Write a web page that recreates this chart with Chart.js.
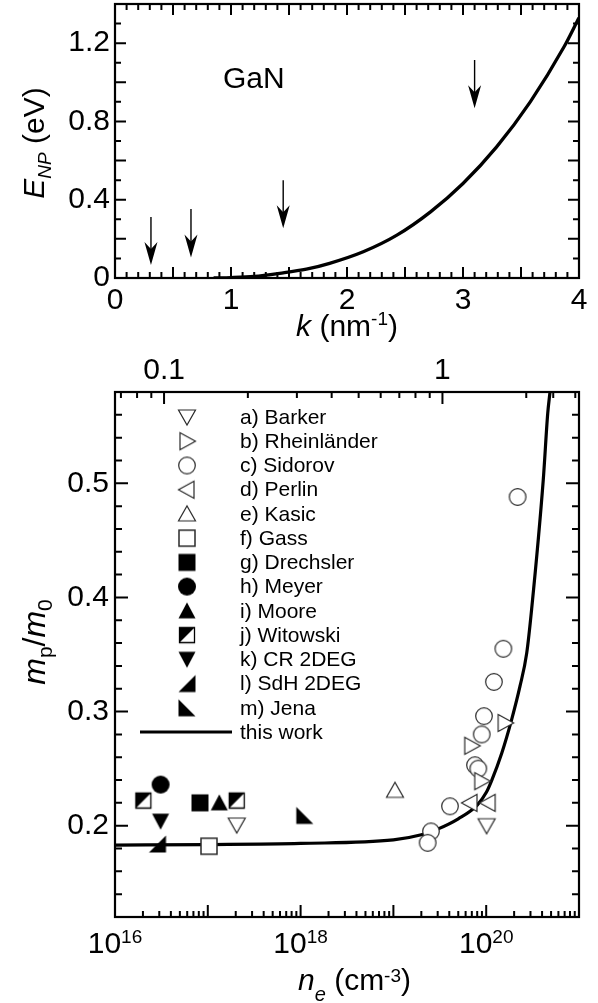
<!DOCTYPE html>
<html>
<head>
<meta charset="utf-8">
<script src="https://cdn.jsdelivr.net/npm/chart.js@4.4.1/dist/chart.umd.min.js"></script>
<style>
  html, body { margin: 0; padding: 0; background: #fff; }
  #wrap { position: relative; width: 598px; height: 1003px; overflow: hidden; background: #fff; }
  #c1 { position: absolute; left: 0; top: 0; }
  #c2 { position: absolute; left: 0; top: 345px; }
</style>
</head>
<body>
<div id="wrap">
  <canvas id="c1" width="598" height="360"></canvas>
  <canvas id="c2" width="598" height="658"></canvas>
</div>
<script>
const FONT = '"Liberation Sans", Arial, Helvetica, sans-serif';

// ---------- Upper panel: E_NP versus k ----------
const kCurve = [0.85, 1.0, 1.2, 1.42, 1.65, 1.85, 2.14, 2.43, 2.72, 3.0, 3.29, 3.58, 3.87, 4.0];
const eCurve = [0, 0.002, 0.008, 0.024, 0.045, 0.075, 0.134, 0.219, 0.338, 0.483, 0.67, 0.90, 1.18, 1.33];
const arrowK = [0.31, 0.655, 1.45, 3.10];
const arrowFrom = [0.312, 0.353, 0.50, 1.114];
const arrowTo = [0.066, 0.105, 0.254, 0.867];
const kTickLabels = ['0', '1', '2', '3', '4'];
const eTickLabels = ['0', '0.4', '0.8', '1.2'];

// ---------- Lower panel: m_p/m_0 versus n_e ----------
const barkerN = [2.05e17, 1.01e20];               const barkerM = [0.2006, 0.200];
const rheinN = [1.6e20, 6.98e19, 8.95e19];        const rheinM = [0.290, 0.270, 0.239];
const sidorovN = [2.18e20, 1.53e20, 1.21e20, 9.46e19, 8.95e19, 7.57e19, 8.22e19, 4.07e19, 2.54e19, 2.34e19];
const sidorovM = [0.488, 0.355, 0.326, 0.296, 0.280, 0.253, 0.250, 0.217, 0.195, 0.185];
const perlinN = [6.68e19, 1.05e20];               const perlinM = [0.220, 0.220];
const kasicN = [1.04e19];                         const kasicM = [0.231];
const gassN = [1.03e17];                          const gassM = [0.182];
const drechslerN = [8.24e16];                     const drechslerM = [0.220];
const meyerN = [3.1e16];                          const meyerM = [0.236];
const mooreN = [1.33e17];                         const mooreM = [0.220];
const witowskiN = [2.02e16, 2.05e17];             const witowskiM = [0.222, 0.222];
const cr2degN = [3.1e16];                         const cr2degM = [0.204];
const sdhN = [2.87e16];                           const sdhM = [0.184];
const jenaN = [1.11e18];                          const jenaM = [0.209];
const thisWorkN = [1e16, 1e17, 1e18, 1e19, 2e19, 3e19, 5e19, 8e19, 1e20, 1.15e20, 1.47e20, 1.88e20, 2.31e20, 2.73e20, 3.09e20, 4.12e20, 4.6e20, 4.87e20];
const thisWorkM = [0.183, 0.1835, 0.1845, 0.1875, 0.192, 0.197, 0.206, 0.218, 0.229, 0.240, 0.2635, 0.293, 0.322, 0.351, 0.39, 0.503, 0.561, 0.58];

const seriesLabels = ['a) Barker', 'b) Rheinländer', 'c) Sidorov', 'd) Perlin', 'e) Kasic', 'f) Gass',
  'g) Drechsler', 'h) Meyer', 'i) Moore', 'j) Witowski', 'k) CR 2DEG', 'l) SdH 2DEG', 'm) Jena'];
const seriesN = [barkerN, rheinN, sidorovN, perlinN, kasicN, gassN, drechslerN, meyerN, mooreN, witowskiN, cr2degN, sdhN, jenaN];
const seriesM = [barkerM, rheinM, sidorovM, perlinM, kasicM, gassM, drechslerM, meyerM, mooreM, witowskiM, cr2degM, sdhM, jenaM];
const seriesMarker = ['triDownOpen', 'triRightOpen', 'circleOpen', 'triLeftOpen', 'triUpOpen', 'squareOpen',
  'squareSolid', 'circleSolid', 'triUpSolid', 'halfSquare', 'triDownSolid', 'wedgeRight', 'wedgeLeft'];
const curveLabel = 'this work';

const mTickLabels = ['0.2', '0.3', '0.4', '0.5'];
const nLabelExponents = [16, 18, 20];
const kAxisTicks = [0.07, 0.08, 0.09, 0.1, 0.2, 0.3, 0.4, 0.5, 0.6, 0.7, 0.8, 0.9, 1, 2, 2.5, 3];
const kAxisLabels = ['0.1', '1'];

// carrier density (cm^-3) of a Fermi sphere with wave vector k (nm^-1)
const densityFromK = k => k * k * k / (3 * Math.PI * Math.PI) * 1e21;
const kFromDensity = n => Math.cbrt(n * 3 * Math.PI * Math.PI / 1e21);

// ---------- helpers ----------
function fontStr(size, italic) { return (italic ? 'italic ' : '') + size + 'px ' + FONT; }

function drawRich(ctx, parts, x, y, align) {
  let w = 0;
  for (const p of parts) { ctx.font = fontStr(p.size, p.italic); p.w = ctx.measureText(p.t).width; w += p.w; }
  let cx = align === 'center' ? x - w / 2 : (align === 'right' ? x - w : x);
  ctx.textAlign = 'left';
  ctx.textBaseline = 'alphabetic';
  ctx.fillStyle = '#000';
  for (const p of parts) {
    ctx.font = fontStr(p.size, p.italic);
    ctx.fillText(p.t, cx, y + (p.dy || 0));
    cx += p.w;
  }
}

function drawFrame(ctx, area) {
  ctx.save();
  ctx.strokeStyle = '#000';
  ctx.lineWidth = 2.2;
  ctx.strokeRect(area.left, area.top, area.right - area.left, area.bottom - area.top);
  ctx.restore();
}

// inward tick marks along one side of the plot
function drawTicks(ctx, scale, side, area, isMajor, majorLen, minorLen) {
  ctx.save();
  ctx.strokeStyle = '#000';
  ctx.lineWidth = 2;
  ctx.beginPath();
  for (const t of scale.ticks) {
    const p = scale.getPixelForValue(t.value);
    const len = isMajor(t.value) ? majorLen : minorLen;
    if (side === 'bottom') { ctx.moveTo(p, area.bottom); ctx.lineTo(p, area.bottom - len); }
    if (side === 'top') { ctx.moveTo(p, area.top); ctx.lineTo(p, area.top + len); }
    if (side === 'left') { ctx.moveTo(area.left, p); ctx.lineTo(area.left + len, p); }
    if (side === 'right') { ctx.moveTo(area.right, p); ctx.lineTo(area.right - len, p); }
  }
  ctx.stroke();
  ctx.restore();
}

function marker(kind) {
  const S = 22, c = 11;
  const cv = document.createElement('canvas');
  cv.width = S; cv.height = S;
  const g = cv.getContext('2d');
  const poly = pts => {
    g.beginPath();
    g.moveTo(pts[0][0] + c, pts[0][1] + c);
    for (let i = 1; i < pts.length; i++) g.lineTo(pts[i][0] + c, pts[i][1] + c);
    g.closePath();
  };
  const open = lw => { g.fillStyle = '#fff'; g.fill(); g.strokeStyle = '#2a2a2a'; g.lineWidth = lw || 1.2; g.stroke(); };
  const solid = () => { g.fillStyle = '#000'; g.fill(); };
  switch (kind) {
    case 'triDownOpen': poly([[-8.5, -7], [8.5, -7], [0, 8]]); open(); break;
    case 'triRightOpen': poly([[-7, -8.5], [-7, 8.5], [8.5, 0]]); open(); break;
    case 'circleOpen': g.beginPath(); g.arc(c, c, 8.3, 0, 2 * Math.PI); open(); break;
    case 'triLeftOpen': poly([[7, -8.5], [7, 8.5], [-8.5, 0]]); open(); break;
    case 'triUpOpen': poly([[-8.5, 7], [8.5, 7], [0, -8]]); open(); break;
    case 'squareOpen': poly([[-8, -8], [8, -8], [8, 8], [-8, 8]]); open(1.5); break;
    case 'squareSolid': poly([[-8.5, -8.5], [8.5, -8.5], [8.5, 8.5], [-8.5, 8.5]]); solid(); break;
    case 'circleSolid': g.beginPath(); g.arc(c, c, 9, 0, 2 * Math.PI); solid(); break;
    case 'triUpSolid': poly([[-8.5, 7.5], [8.5, 7.5], [0, -8.5]]); solid(); break;
    case 'halfSquare':
      poly([[-7.5, -7.5], [7.5, -7.5], [7.5, 7.5], [-7.5, 7.5]]); g.fillStyle = '#fff'; g.fill();
      poly([[-7.5, -7.5], [7.5, -7.5], [-7.5, 7.5]]); solid();
      poly([[-7.5, -7.5], [7.5, -7.5], [7.5, 7.5], [-7.5, 7.5]]); g.strokeStyle = '#000'; g.lineWidth = 1.3; g.stroke();
      break;
    case 'triDownSolid': poly([[-8.5, -7.5], [8.5, -7.5], [0, 8.5]]); solid(); break;
    case 'wedgeRight': poly([[8.5, -8.5], [8.5, 8.5], [-8.5, 8.5]]); solid(); break;
    case 'wedgeLeft': poly([[-8.5, -8.5], [-8.5, 8.5], [8.5, 8.5]]); solid(); break;
  }
  return cv;
}

const near = (a, b) => Math.abs(a - b) < 1e-9;
const round2 = v => Math.round(v * 100) / 100;

// ---------- upper chart ----------
const upperDecor = {
  id: 'upperDecor',
  afterDatasetsDraw(chart) {
    const ctx = chart.ctx, a = chart.chartArea;
    const xs = chart.scales.x, ys = chart.scales.y;
    drawFrame(ctx, a);
    const xMajor = v => near(Math.round(v * 2) / 2, v);
    const yMajor = v => near(Math.round(v * 5) / 5, v);
    drawTicks(ctx, xs, 'bottom', a, xMajor, 11, 6);
    drawTicks(ctx, xs, 'top', a, xMajor, 11, 6);
    drawTicks(ctx, ys, 'left', a, yMajor, 11, 6);
    drawTicks(ctx, ys, 'right', a, yMajor, 11, 6);

    // arrows
    ctx.save();
    ctx.strokeStyle = '#000';
    ctx.fillStyle = '#000';
    for (let i = 0; i < arrowK.length; i++) {
      const x = xs.getPixelForValue(arrowK[i]);
      const y0 = ys.getPixelForValue(arrowFrom[i]);
      const y1 = ys.getPixelForValue(arrowTo[i]);
      ctx.lineWidth = 1.4;
      ctx.beginPath(); ctx.moveTo(x, y0); ctx.lineTo(x, y1 - 12); ctx.stroke();
      ctx.beginPath();
      ctx.moveTo(x, y1);
      ctx.lineTo(x - 6.5, y1 - 23);
      ctx.lineTo(x, y1 - 16);
      ctx.lineTo(x + 6.5, y1 - 23);
      ctx.closePath();
      ctx.fill();
    }
    ctx.restore();

    // material label
    drawRich(ctx, [{ t: 'GaN', size: 30 }], xs.getPixelForValue(0.93), ys.getPixelForValue(0.971), 'left');

    // axis titles
    drawRich(ctx, [{ t: 'k', size: 30, italic: true }, { t: ' (nm', size: 30 }, { t: '-1', size: 19, dy: -11 }, { t: ')', size: 30 }],
      347, 336, 'center');
    ctx.save();
    ctx.translate(44, 143);
    ctx.rotate(-Math.PI / 2);
    drawRich(ctx, [{ t: 'E', size: 30, italic: true }, { t: 'NP', size: 19, italic: true, dy: 7 }, { t: ' (eV)', size: 30 }], 0, 0, 'center');
    ctx.restore();
  }
};

new Chart(document.getElementById('c1'), {
  type: 'line',
  data: {
    datasets: [{
      data: kCurve.map((k, i) => ({ x: k, y: eCurve[i] })),
      borderColor: '#000', borderWidth: 3.3, pointRadius: 0, fill: false,
      cubicInterpolationMode: 'monotone'
    }]
  },
  options: {
    responsive: false, animation: false, devicePixelRatio: 1,
    layout: { padding: { left: 0, right: 19, top: 4, bottom: 0 } },
    plugins: { legend: { display: false }, tooltip: { enabled: false } },
    scales: {
      x: {
        type: 'linear', min: 0, max: 4,
        grid: { display: false, drawTicks: false }, border: { display: false },
        afterBuildTicks: s => { s.ticks = Array.from({ length: 41 }, (_, i) => ({ value: i / 10 })); },
        ticks: {
          autoSkip: false, maxRotation: 0, minRotation: 0, padding: 5, color: '#000',
          font: { family: FONT, size: 30 },
          callback: v => { const s = String(Math.round(v * 10) / 10); return kTickLabels.includes(s) ? s : ''; }
        },
        afterFit: s => { s.height = 82; s.paddingLeft = 0; s.paddingRight = 0; }
      },
      y: {
        type: 'linear', min: 0, max: 1.4,
        grid: { display: false, drawTicks: false }, border: { display: false },
        afterBuildTicks: s => { s.ticks = Array.from({ length: 15 }, (_, i) => ({ value: i / 10 })); },
        ticks: {
          autoSkip: false, padding: 5, color: '#000',
          font: { family: FONT, size: 30 },
          callback: v => { const s = String(Math.round(v * 10) / 10); return eTickLabels.includes(s) ? s : ''; }
        },
        afterFit: s => { s.width = 115; s.paddingTop = 0; s.paddingBottom = 0; }
      }
    }
  },
  plugins: [upperDecor]
});

// ---------- lower chart ----------
const markerImages = seriesMarker.map(marker);

const lowerDecor = {
  id: 'lowerDecor',
  afterDatasetsDraw(chart) {
    const ctx = chart.ctx, a = chart.chartArea;
    const xs = chart.scales.x, xt = chart.scales.xTop, ys = chart.scales.y;
    drawFrame(ctx, a);
    const decade = v => near(Math.log10(v), Math.round(Math.log10(v)));
    const kMajor = v => kAxisLabels.includes(String(Math.round(kFromDensity(v) * 100) / 100));
    const yMajor = v => near(Math.round(v * 10) / 10, round2(v));
    drawTicks(ctx, xs, 'bottom', a, decade, 12, 6);
    drawTicks(ctx, xt, 'top', a, kMajor, 12, 6);
    drawTicks(ctx, ys, 'left', a, yMajor, 13, 7);
    drawTicks(ctx, ys, 'right', a, yMajor, 13, 7);

    // power-of-ten labels on the density axis
    for (const e of nLabelExponents) {
      const x = xs.getPixelForValue(Math.pow(10, e));
      drawRich(ctx, [{ t: '10', size: 30 }, { t: String(e), size: 19, dy: -10 }], x, 608, 'center');
    }

    // axis titles
    drawRich(ctx, [{ t: 'n', size: 30, italic: true }, { t: 'e', size: 20, italic: true, dy: 11 }, { t: ' (cm', size: 30 },
      { t: '-3', size: 19, dy: -8 }, { t: ')', size: 30 }], 298, 645, 'left');
    ctx.save();
    ctx.translate(45, 297);
    ctx.rotate(-Math.PI / 2);
    drawRich(ctx, [{ t: 'm', size: 32, italic: true }, { t: 'p', size: 21, dy: 7 }, { t: '/', size: 32 },
      { t: 'm', size: 32, italic: true }, { t: '0', size: 21, dy: 7 }], 0, 0, 'center');
    ctx.restore();

    // legend
    const rowY0 = 72, rowStep = 24.23;
    ctx.save();
    ctx.font = fontStr(21, false);
    ctx.fillStyle = '#000';
    ctx.textAlign = 'left';
    ctx.textBaseline = 'middle';
    for (let i = 0; i < seriesLabels.length; i++) {
      const y = rowY0 + i * rowStep;
      const img = markerImages[i];
      ctx.drawImage(img, 187 - img.width / 2, y - img.height / 2);
      ctx.fillText(seriesLabels[i], 240, y + 1);
    }
    const yl = rowY0 + seriesLabels.length * rowStep;
    ctx.strokeStyle = '#000';
    ctx.lineWidth = 3.2;
    ctx.beginPath(); ctx.moveTo(140, yl); ctx.lineTo(232, yl); ctx.stroke();
    ctx.fillText(curveLabel, 240, yl + 1);
    ctx.restore();
  }
};

const lowerDatasets = seriesLabels.map((label, i) => ({
  label,
  data: seriesN[i].map((n, j) => ({ x: n, y: seriesM[i][j] })),
  showLine: false,
  pointStyle: markerImages[i],
  pointRadius: 9, pointHoverRadius: 9
}));
lowerDatasets.push({
  label: curveLabel,
  data: thisWorkN.map((n, j) => ({ x: n, y: thisWorkM[j] })),
  showLine: true, borderColor: '#000', borderWidth: 3.2, pointRadius: 0, fill: false,
  cubicInterpolationMode: 'monotone'
});

const logTicks = [];
for (let e = 16; e <= 21; e++) {
  for (let d = 1; d <= 9; d++) {
    if (e === 21 && d > 1) break;
    logTicks.push({ value: d * Math.pow(10, e) });
  }
}

new Chart(document.getElementById('c2'), {
  type: 'scatter',
  data: { datasets: lowerDatasets },
  options: {
    responsive: false, animation: false, devicePixelRatio: 1,
    layout: { padding: { left: 0, right: 19, top: 0, bottom: 0 } },
    plugins: { legend: { display: false }, tooltip: { enabled: false } },
    scales: {
      x: {
        type: 'logarithmic', position: 'bottom', min: 1e16, max: 1e21,
        grid: { display: false, drawTicks: false }, border: { display: false },
        afterBuildTicks: s => { s.ticks = logTicks.map(t => ({ value: t.value })); },
        ticks: { display: false, autoSkip: false },
        afterFit: s => { s.height = 86; s.paddingLeft = 0; s.paddingRight = 0; }
      },
      xTop: {
        type: 'logarithmic', position: 'top', min: 1e16, max: 1e21,
        grid: { display: false, drawTicks: false }, border: { display: false },
        afterBuildTicks: s => { s.ticks = kAxisTicks.map(k => ({ value: densityFromK(k) })); },
        ticks: {
          autoSkip: false, maxRotation: 0, minRotation: 0, padding: 3, color: '#000',
          font: { family: FONT, size: 30 },
          callback: v => { const s = String(Math.round(kFromDensity(v) * 100) / 100); return kAxisLabels.includes(s) ? s : ''; }
        },
        afterFit: s => { s.height = 47; s.paddingLeft = 0; s.paddingRight = 0; }
      },
      y: {
        type: 'linear', min: 0.12, max: 0.58,
        grid: { display: false, drawTicks: false }, border: { display: false },
        afterBuildTicks: s => { s.ticks = Array.from({ length: 24 }, (_, i) => ({ value: round2(0.12 + i * 0.02) })); },
        ticks: {
          autoSkip: false, padding: 6, color: '#000',
          font: { family: FONT, size: 30 },
          callback: v => { const s = String(Math.round(v * 100) / 100); return mTickLabels.includes(s) ? s : ''; }
        },
        afterFit: s => { s.width = 115; s.paddingTop = 0; s.paddingBottom = 0; }
      }
    }
  },
  plugins: [lowerDecor]
});
</script>
</body>
</html>
